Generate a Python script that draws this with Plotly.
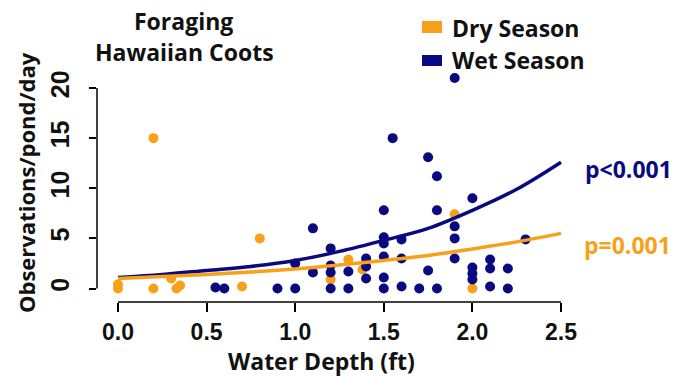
import plotly.graph_objects as go

# ---------------- data ----------------
dry_x = [0.0, 0.0, 0.2, 0.2, 0.3, 0.33, 0.35, 0.7, 0.8, 1.2, 1.3, 1.38, 1.9, 2.0]
dry_y = [0.0, 0.4, 15.0, 0.0, 1.0, 0.0, 0.3, 0.2, 5.0, 0.9, 2.9, 1.9, 7.4, 0.0]

wet_x = [0.55, 0.6, 0.9, 1.0, 1.0, 1.1, 1.1, 1.2, 1.2, 1.2, 1.2, 1.3, 1.3,
         1.4, 1.4, 1.4, 1.5, 1.5, 1.5, 1.5, 1.5, 1.5, 1.55, 1.6, 1.6, 1.6,
         1.7, 1.75, 1.75, 1.8, 1.8, 1.8, 1.9, 1.9, 1.9, 1.9, 2.0, 2.0, 2.0,
         2.0, 2.1, 2.1, 2.1, 2.2, 2.2, 2.3]
wet_y = [0.1, 0.0, 0.0, 0.0, 2.5, 6.0, 1.6, 4.0, 2.3, 1.6, 0.0, 1.7, 0.0,
         3.0, 2.2, 1.0, 7.8, 5.1, 4.5, 3.2, 1.1, 0.0, 15.0, 4.9, 3.0, 0.2,
         0.0, 13.1, 1.8, 11.2, 7.8, 0.0, 21.0, 6.2, 5.0, 3.0, 9.0, 2.1, 1.5,
         0.9, 2.9, 2.0, 0.2, 2.0, 0.0, 4.9]

fit_x = [0.0, 0.25, 0.5, 0.75, 1.0, 1.25, 1.5, 1.75, 2.0, 2.25, 2.5]
wet_fit = [1.1, 1.4, 1.8, 2.2, 2.8, 3.7, 4.8, 6.0, 7.8, 9.9, 12.6]
dry_fit = [1.0, 1.2, 1.4, 1.65, 1.95, 2.35, 2.8, 3.3, 3.95, 4.65, 5.5]

x_ticks = [0.0, 0.5, 1.0, 1.5, 2.0, 2.5]
x_tick_labels = ["0.0", "0.5", "1.0", "1.5", "2.0", "2.5"]
y_ticks = [0, 5, 10, 15, 20]
y_tick_labels = ["0", "5", "10", "15", "20"]

series_names = ["Dry Season", "Wet Season"]
p_labels = ["p=0.001", "p<0.001"]
title_lines = ["Foraging", "Hawaiian Coots"]
x_title = "Water Depth (ft)"
y_title = "Observations/pond/day"

# ---------------- style ----------------
ORANGE = "#F7A11A"
NAVY = "#0A0A80"
W, H = 677, 376
ML, MR, MT, MB = 97, 98, 60, 74
PW, PH = W - ML - MR, H - MT - MB
X0PX, XPU = 118.0, 177.2      # pixel of x=0, px per unit
Y0PX, YPU = 288.5, 10.025     # pixel of y=0, px per unit
xr = [(ML - X0PX) / XPU, (ML + PW - X0PX) / XPU]
yr = [(Y0PX - (MT + PH)) / YPU, (Y0PX - MT) / YPU]

def px(x):
    return (x - ML) / PW

def py(y):
    return (MT + PH - y) / PH

TXT = "Open Sans"
NUM = "Liberation Sans"

fig = go.Figure()
fig.add_trace(go.Scatter(x=dry_x, y=dry_y, mode="markers",
                         marker=dict(color=ORANGE, size=10), showlegend=False,
                         cliponaxis=False))
fig.add_trace(go.Scatter(x=wet_x, y=wet_y, mode="markers",
                         marker=dict(color=NAVY, size=10), showlegend=False,
                         cliponaxis=False))
fig.add_trace(go.Scatter(x=fit_x, y=wet_fit, mode="lines",
                         line=dict(color=NAVY, width=3.5, shape="spline"),
                         showlegend=False))
fig.add_trace(go.Scatter(x=fit_x, y=dry_fit, mode="lines",
                         line=dict(color=ORANGE, width=3.5, shape="spline"),
                         showlegend=False))

axis_common = dict(showgrid=False, zeroline=False, showline=False,
                   ticks="outside", tickcolor="black", tickwidth=1.5)

fig.update_xaxes(range=xr, tickvals=x_ticks, ticktext=x_tick_labels,
                 ticklen=9, ticklabelstandoff=0,
                 tickfont=dict(family=NUM, size=23, color="#111111", weight="bold"),
                 **axis_common)
fig.update_yaxes(range=yr, tickvals=y_ticks, ticktext=y_tick_labels,
                 ticklen=7, tickangle=-90, ticklabelstandoff=10,
                 tickfont=dict(family=NUM, size=25, color="#111111", weight="bold"),
                 **axis_common)

shapes = [
    dict(type="line", xref="paper", yref="y", x0=0, x1=0, y0=y_ticks[0], y1=y_ticks[-1],
         line=dict(color="black", width=1.5)),
    dict(type="line", xref="x", yref="paper", x0=x_ticks[0], x1=x_ticks[-1], y0=0, y1=0,
         line=dict(color="black", width=1.5)),
    dict(type="rect", xref="paper", yref="paper", x0=px(422), x1=px(442),
         y0=py(33), y1=py(21), fillcolor=ORANGE, line=dict(width=0)),
    dict(type="rect", xref="paper", yref="paper", x0=px(422), x1=px(442),
         y0=py(66), y1=py(55), fillcolor=NAVY, line=dict(width=0)),
]

def ann(text, x, y, size, color="#111111", xanchor="center", textangle=0, family=TXT):
    return dict(text=text, x=px(x), y=py(y), xref="paper", yref="paper",
                xanchor=xanchor, yanchor="middle", showarrow=False,
                textangle=textangle,
                font=dict(family=family, size=size, color=color, weight="bold"))

annotations = [
    ann(title_lines[0], 183, 21, 23),
    ann(title_lines[1], 184, 52, 23),
    ann(series_names[0], 450, 28, 23, xanchor="left"),
    ann(series_names[1], 450, 60, 23, xanchor="left"),
    ann(p_labels[1], 583, 169, 23, color=NAVY, xanchor="left"),
    ann(p_labels[0], 582, 245, 23, color=ORANGE, xanchor="left"),
    ann(x_title, 321, 361, 23),
    ann(y_title, 26, 183, 22, textangle=-90),
]

fig.update_layout(width=W, height=H, margin=dict(l=ML, r=MR, t=MT, b=MB),
                  paper_bgcolor="white", plot_bgcolor="white",
                  shapes=shapes, annotations=annotations, showlegend=False)

fig.write_html("out.html")
